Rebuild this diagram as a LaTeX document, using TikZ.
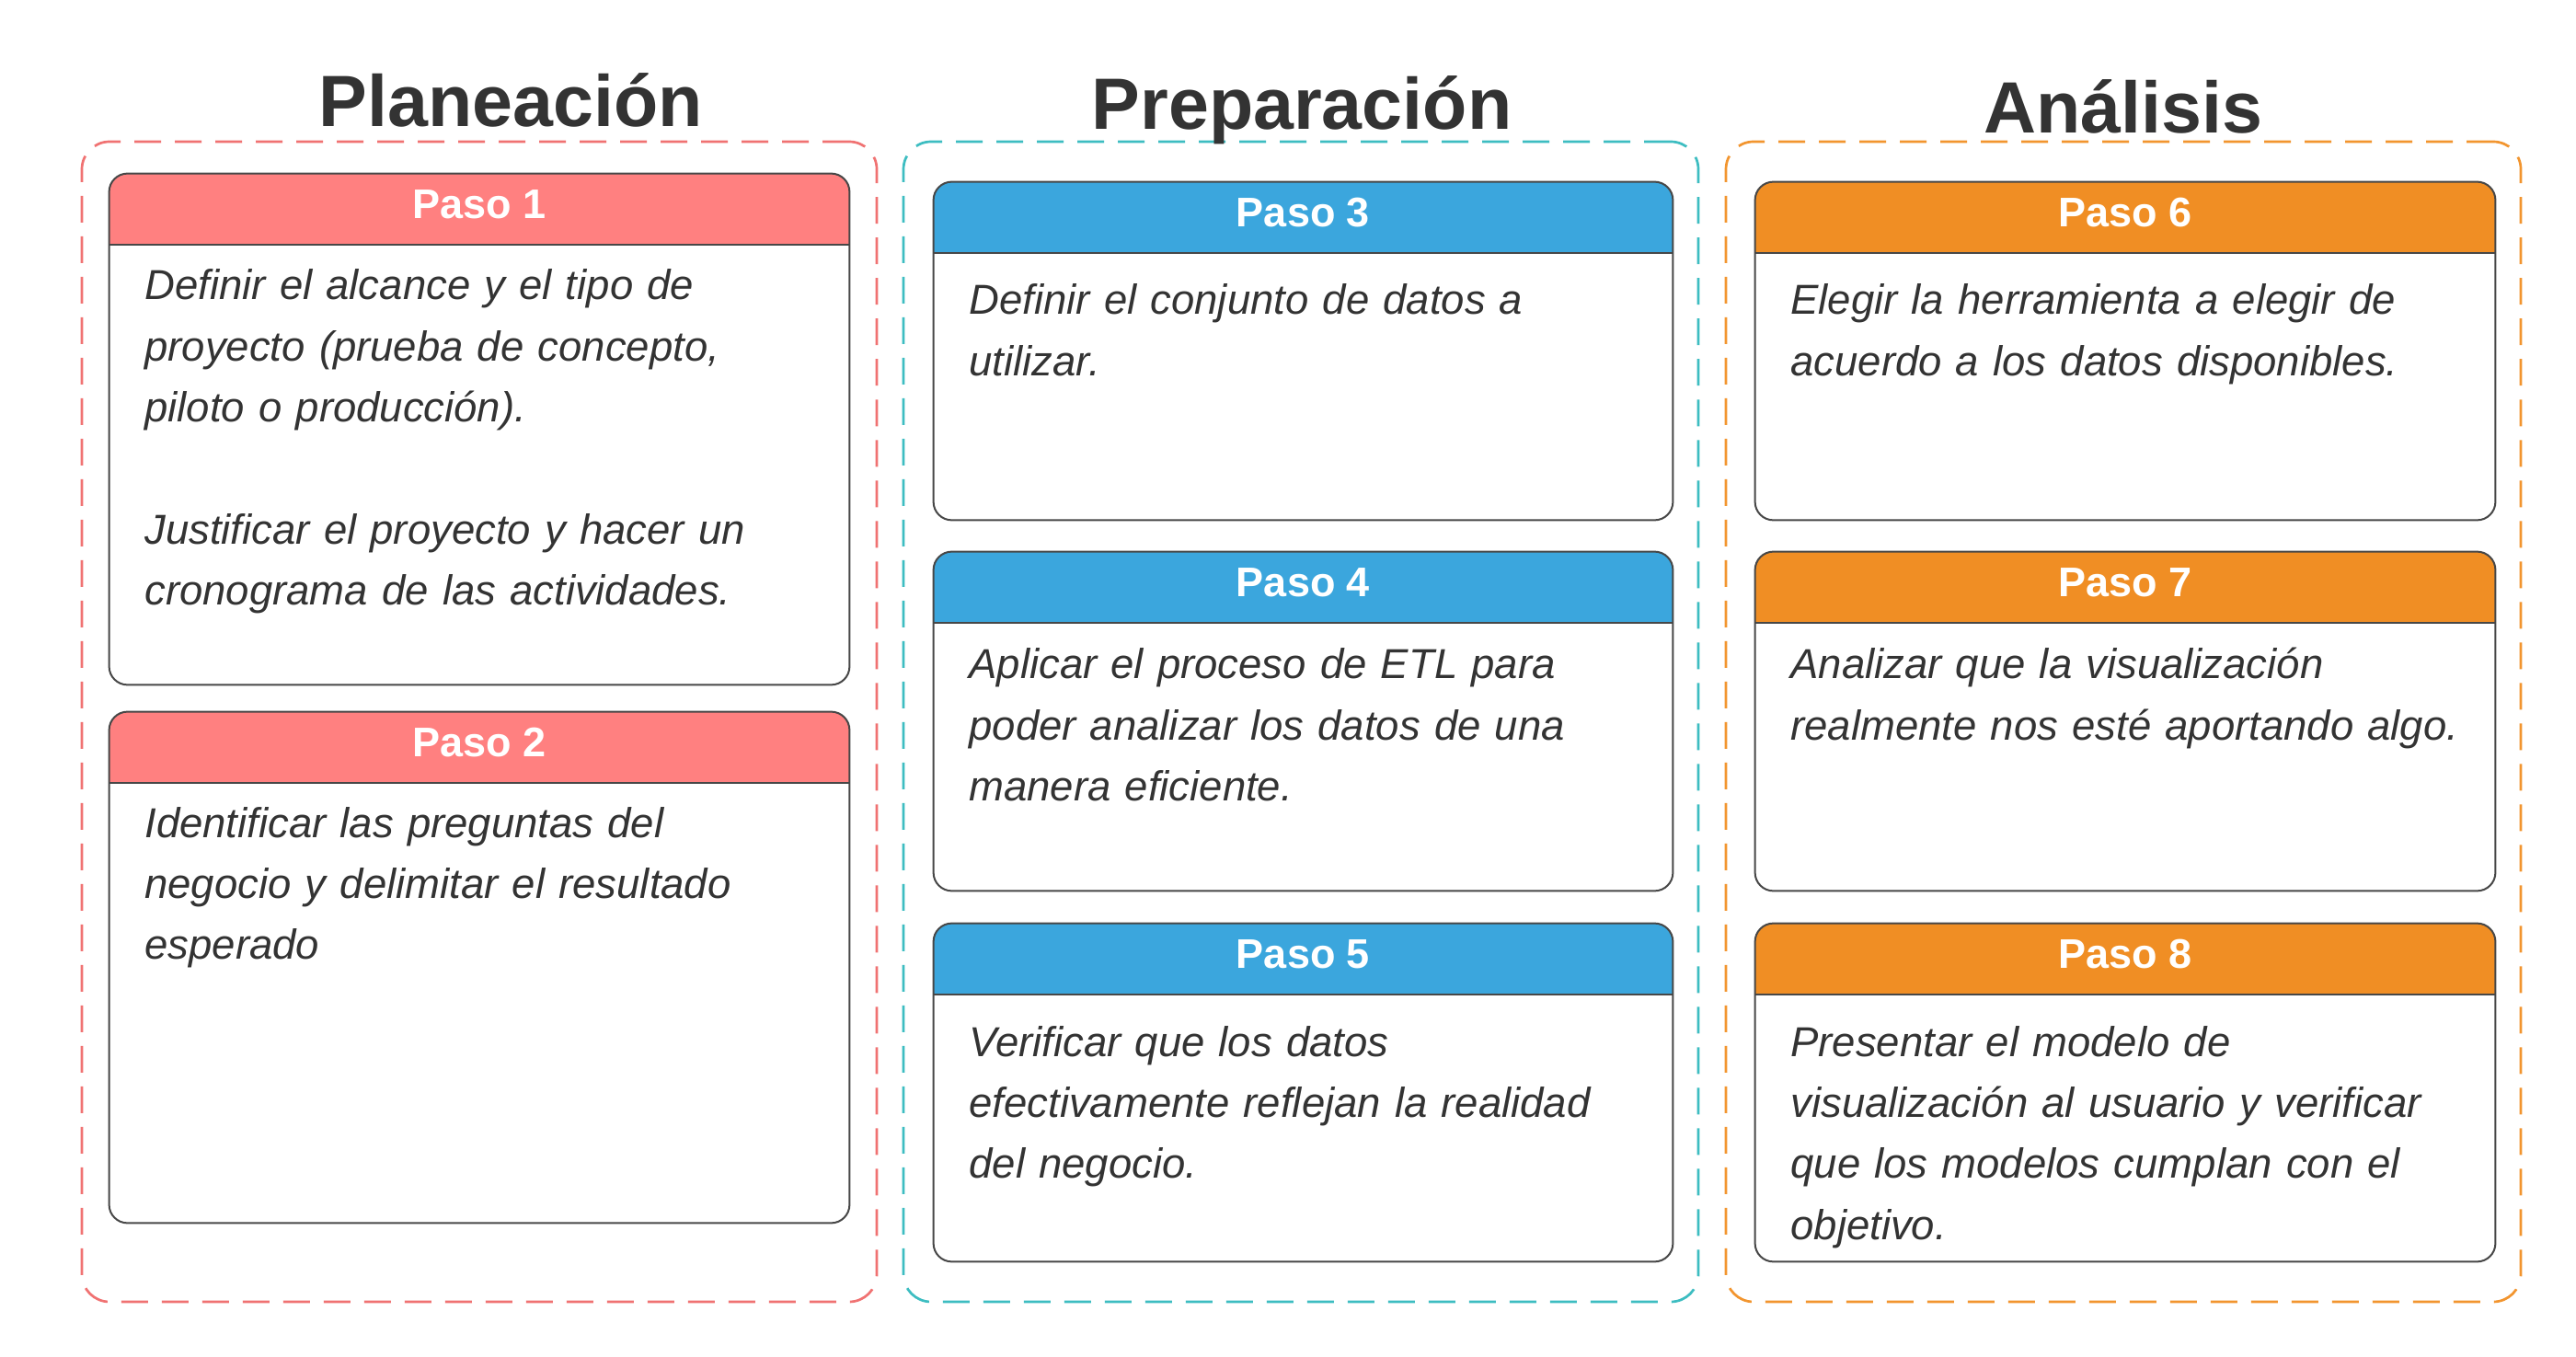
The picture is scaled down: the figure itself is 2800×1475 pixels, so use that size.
\documentclass[tikz,border=0pt]{standalone}
\usepackage{fontspec}
\setmainfont{Liberation Sans}
\usetikzlibrary{fit}
\definecolor{txt}{HTML}{333333}
\definecolor{edge}{HTML}{474747}
\definecolor{redhead}{HTML}{FF8080}
\definecolor{bluehead}{HTML}{3BA6DD}
\definecolor{orangehead}{HTML}{F08E24}
\definecolor{reddash}{HTML}{F07272}
\definecolor{tealdash}{HTML}{3DBDC1}
\definecolor{orangedash}{HTML}{F2952F}
\newcommand\pasocard[9]{%
  % #1 name, #2 x1, #3 top, #4 x2, #5 bottom, #6 colour, #7 title, #8 baseline offset, #9 body
  \node[card, fit={(#2,#3) (#4,#5)}] (#1) {};
  \begin{scope}
    \clip[rounded corners=10] (#1.north west) rectangle (#1.south east);
    \fill[#6] (#1.north west) rectangle ([yshift=-38.5pt]#1.north east);
  \end{scope}
  \draw[edge, line width=1pt] ([yshift=-38.5pt]#1.north west) -- ([yshift=-38.5pt]#1.north east);
  \draw[edge, line width=1pt, rounded corners=10] (#1.north west) rectangle (#1.south east);
  \node[headtext, anchor=base] (#1h) at ({(#2+#4)/2},#3+48.5) {#7};
  \node[bodytext, anchor=base west] (#1t) at (#2+38,#3+#8) {#9};
}
\tikzset{
  card/.style={inner sep=0pt, fill=white},
  group/.style={inner sep=0pt, line width=1.35pt, rounded corners=15, dash pattern=on 14.5pt off 7.5pt},
  titletext/.style={inner sep=0pt, text=txt, font=\bfseries\fontsize{39.5pt}{45pt}\selectfont},
  headtext/.style={inner sep=0pt, text=white, font=\bfseries\fontsize{22.5pt}{26pt}\selectfont},
  bodytext/.style={inner sep=0pt, text=txt, text width=385pt, align=left, font=\itshape\fontsize{22.75pt}{33.2pt}\selectfont},
}
\begin{document}
\begin{tikzpicture}[x=0.5pt, y=-0.5pt]
\useasboundingbox (0,0) rectangle (2800,1475);
\fill[white] (0,0) rectangle (2800,1475);
% group frames
\node[group, draw=reddash, fit={(89,154) (953,1415)}] (gA) {};
\node[group, draw=tealdash, fit={(982,154) (1846,1415)}] (gB) {};
\node[group, draw=orangedash, fit={(1876,154) (2740,1415)}] (gC) {};
% column A
\pasocard{p1}{119}{189}{923}{744}{redhead}{Paso 1}{137}{Definir el alcance y el tipo de\\proyecto (prueba de concepto,\\piloto o producción).\\[33.2pt]Justificar el proyecto y hacer un\\cronograma de las actividades.}
\pasocard{p2}{119}{774}{923}{1329}{redhead}{Paso 2}{136}{Identificar las preguntas del\\negocio y delimitar el resultado\\esperado}
% column B
\pasocard{p3}{1015}{198}{1818}{565}{bluehead}{Paso 3}{144}{Definir el conjunto de datos a\\utilizar.}
\pasocard{p4}{1015}{600}{1818}{968}{bluehead}{Paso 4}{138}{Aplicar el proceso de ETL para\\poder analizar los datos de una\\manera eficiente.}
\pasocard{p5}{1015}{1004}{1818}{1371}{bluehead}{Paso 5}{144}{Verificar que los datos\\efectivamente reflejan la realidad\\del negocio.}
% column C
\pasocard{p6}{1908}{198}{2712}{565}{orangehead}{Paso 6}{144}{Elegir la herramienta a elegir de\\acuerdo a los datos disponibles.}
\pasocard{p7}{1908}{600}{2712}{968}{orangehead}{Paso 7}{138}{Analizar que la visualización\\realmente nos esté aportando algo.}
\pasocard{p8}{1908}{1004}{2712}{1371}{orangehead}{Paso 8}{144}{Presentar el modelo de\\visualización al usuario y verificar\\que los modelos cumplan con el\\objetivo.}
% titles
\node[titletext, anchor=base] (tA) at (555,138) {Planeación};
\node[titletext, anchor=base] (tB) at (1415,141) {Preparación};
\node[titletext, anchor=base] (tC) at (2308,145) {Análisis};
\end{tikzpicture}
\end{document}
